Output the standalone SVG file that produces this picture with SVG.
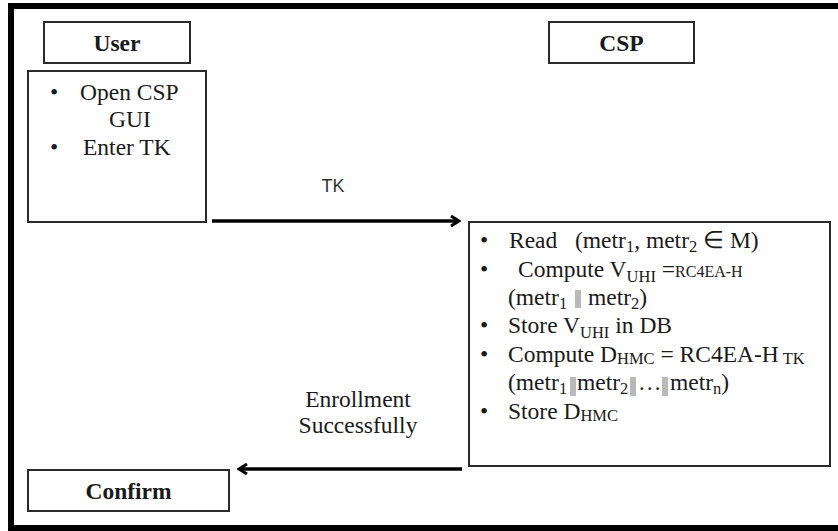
<svg xmlns="http://www.w3.org/2000/svg" width="838" height="531" viewBox="0 0 838 531">
<style>
.box{fill:#fff;stroke:#2a2a2a;stroke-width:2}
.t{font-family:"Liberation Serif","Times New Roman",serif;font-size:23.5px;fill:#1a1a1a}
.b{font-weight:bold;text-anchor:middle}
.s{font-size:16.5px}
.sm{font-size:16px}
.bar{fill:#b9b9b9}
.conn{stroke:#000;stroke-width:3.5;fill:none}
</style>
<defs>
<marker id="ah" viewBox="0 0 12 12" refX="10" refY="6" markerWidth="12" markerHeight="12" markerUnits="userSpaceOnUse" orient="auto">
<path d="M2,1 L10,6 L2,11" fill="none" stroke="#000" stroke-width="3"/>
</marker>
</defs>
<rect x="0" y="0" width="838" height="531" fill="#fff"/>
<rect x="11" y="6" width="840" height="522" fill="none" stroke="#000" stroke-width="6"/>

<g id="user">
<rect class="box" x="44" y="22" width="146" height="41"/>
<text class="t b" x="117" y="51">User</text>
</g>
<g id="user-actions">
<rect class="box" x="28" y="71" width="178" height="151"/>
<text class="t" x="50" y="100">•</text>
<text class="t" x="80" y="100">Open CSP</text>
<text class="t" x="130" y="127" text-anchor="middle">GUI</text>
<text class="t" x="50" y="155">•</text>
<text class="t" x="83" y="155">Enter TK</text>
</g>

<g id="csp">
<rect class="box" x="549" y="22" width="145" height="41"/>
<text class="t b" x="621.5" y="51">CSP</text>
</g>
<g id="csp-actions">
<rect class="box" x="469" y="222" width="361" height="244"/>
<text class="t" x="480" y="248">•</text>
<text class="t" x="509" y="248">Read</text>
<text class="t" x="575" y="248">(metr<tspan class="s" dy="4">1</tspan><tspan dy="-4">, metr</tspan><tspan class="s" dy="4">2</tspan><tspan dy="-4"> ∈ M)</tspan></text>

<text class="t" x="480" y="277">•</text>
<text class="t" x="518" y="277">Compute V<tspan class="s" dy="5">UHI</tspan><tspan dy="-5"> =</tspan><tspan class="sm">RC4EA-H</tspan></text>

<text class="t" x="508" y="305">(metr<tspan class="s" dy="4">1</tspan></text>
<rect class="bar" x="575" y="290" width="6" height="18"/>
<text class="t" x="588" y="305">metr<tspan class="s" dy="4">2</tspan><tspan dy="-4">)</tspan></text>

<text class="t" x="480" y="333">•</text>
<text class="t" x="508" y="333">Store V<tspan class="s" dy="5">UHI</tspan><tspan dy="-5"> in DB</tspan></text>

<text class="t" x="480" y="362">•</text>
<text class="t" x="508" y="362">Compute D<tspan class="s" dy="2">HMC</tspan><tspan dy="-2"> = RC4EA-H</tspan><tspan class="s" dy="2"> TK</tspan></text>

<text class="t" x="508" y="390">(metr<tspan class="s" dy="4">1</tspan></text>
<rect class="bar" x="570" y="377" width="6" height="19"/>
<text class="t" x="577" y="390">metr<tspan class="s" dy="4">2</tspan></text>
<rect class="bar" x="630" y="377" width="6" height="19"/>
<text class="t" x="638" y="390">…</text>
<rect class="bar" x="662" y="377" width="6" height="19"/>
<text class="t" x="670" y="390">metr<tspan class="s" dy="4">n</tspan><tspan dy="-4">)</tspan></text>

<text class="t" x="480" y="419">•</text>
<text class="t" x="508" y="419">Store D<tspan class="s" dy="2">HMC</tspan></text>
</g>

<g id="confirm">
<rect class="box" x="28" y="470" width="201" height="41"/>
<text class="t b" x="128.5" y="499">Confirm</text>
</g>

<g id="connectors">
<line class="conn" x1="212" y1="221" x2="459" y2="221" marker-end="url(#ah)"/>
<text x="333" y="192" text-anchor="middle" font-family="'Liberation Sans',Arial,sans-serif" font-size="18" fill="#333">TK</text>
<line class="conn" x1="462" y1="469" x2="239" y2="469" marker-end="url(#ah)"/>
<text class="t" x="358" y="407" text-anchor="middle">Enrollment</text>
<text class="t" x="358" y="433" text-anchor="middle">Successfully</text>
</g>
</svg>
